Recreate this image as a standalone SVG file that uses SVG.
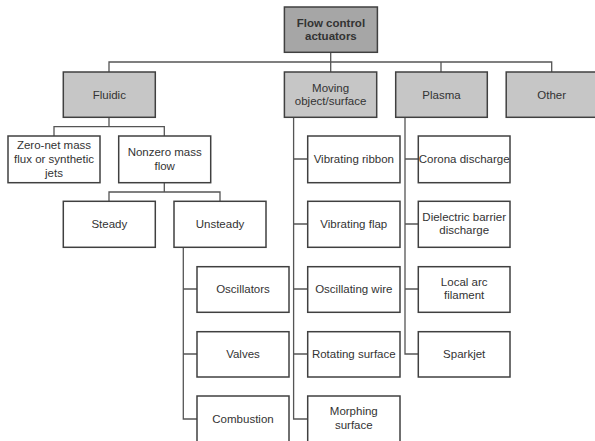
<svg xmlns="http://www.w3.org/2000/svg" width="595" height="441" viewBox="0 0 595 441">
<style>
.box{fill:#ffffff;stroke:#404040;stroke-width:1.5}
.l1{fill:#c6c6c6}
.top{fill:#a6a6a6}
.t{font-family:"Liberation Sans",Arial,sans-serif;font-size:11.5px;fill:#333333;text-anchor:middle}
.b{font-weight:bold}
.c{fill:none;stroke:#555555;stroke-width:1.3}
</style>
<rect width="595" height="441" fill="#ffffff"/>
<g id="connectors">
<path class="c" d="M330.7,52.3V72 M109,72V62H551.7V72 M441,62V72"/>
<path class="c" d="M109,117.3V126.7 M54,136V126.7H164.3V136"/>
<path class="c" d="M164.3,182.7V192 M109,201.3V192H220V201.3"/>
<path class="c" d="M183.3,247.3V419H197 M183.3,289H197 M183.3,354H197"/>
<path class="c" d="M293.6,116.7V419H307.7 M293.6,159H307.7 M293.6,224H307.7 M293.6,289H307.7 M293.6,354H307.7"/>
<path class="c" d="M405,117.3V354H418.3 M405,159H418.3 M405,224H418.3 M405,289H418.3"/>
</g>
<g id="n-root"><rect class="box top" x="284.4" y="7" width="93" height="45.3"/><text class="t b" x="330.9" y="26.7">Flow control</text><text class="t b" x="330.9" y="40">actuators</text></g>
<g id="n-fluidic"><rect class="box l1" x="63.3" y="72" width="92" height="45.3"/><text class="t" x="109.3" y="98.7">Fluidic</text></g>
<g id="n-moving"><rect class="box l1" x="284.4" y="72" width="92.3" height="45.3"/><text class="t" x="330.6" y="91.7">Moving</text><text class="t" x="330.6" y="105.3">object/surface</text></g>
<g id="n-plasma"><rect class="box l1" x="395.7" y="72" width="91.6" height="45.3"/><text class="t" x="441.5" y="98.7">Plasma</text></g>
<g id="n-other"><rect class="box l1" x="506.2" y="72" width="90" height="45.3"/><text class="t" x="551.7" y="98.7">Other</text></g>
<g id="n-zeronet"><rect class="box" x="8" y="136" width="92" height="46.7"/><text class="t" x="54" y="149.3">Zero-net mass</text><text class="t" x="54" y="163.3">flux or synthetic</text><text class="t" x="54" y="177.3">jets</text></g>
<g id="n-nonzero"><rect class="box" x="118.7" y="136" width="92" height="46.7"/><text class="t" x="164.7" y="156.3">Nonzero mass</text><text class="t" x="164.7" y="169.7">flow</text></g>
<g id="n-steady"><rect class="box" x="63.3" y="201.3" width="92" height="46"/><text class="t" x="109.3" y="228.3">Steady</text></g>
<g id="n-unsteady"><rect class="box" x="174" y="201.3" width="92" height="46"/><text class="t" x="220" y="228.3">Unsteady</text></g>
<g id="n-oscillators"><rect class="box" x="197" y="266.7" width="92" height="45.6"/><text class="t" x="243" y="293.3">Oscillators</text></g>
<g id="n-valves"><rect class="box" x="197" y="331.7" width="92" height="45.3"/><text class="t" x="243" y="358.3">Valves</text></g>
<g id="n-combustion"><rect class="box" x="197" y="396" width="92" height="46"/><text class="t" x="243" y="423">Combustion</text></g>
<g id="n-ribbon"><rect class="box" x="307.7" y="136" width="92.3" height="46.7"/><text class="t" x="353.8" y="163.3">Vibrating ribbon</text></g>
<g id="n-flap"><rect class="box" x="307.7" y="201.3" width="92.3" height="46"/><text class="t" x="353.8" y="228.3">Vibrating flap</text></g>
<g id="n-wire"><rect class="box" x="307.7" y="266.7" width="92.3" height="45.6"/><text class="t" x="353.8" y="293.3">Oscillating wire</text></g>
<g id="n-rotating"><rect class="box" x="307.7" y="331.7" width="92.3" height="45.3"/><text class="t" x="353.8" y="358.3">Rotating surface</text></g>
<g id="n-morphing"><rect class="box" x="307.7" y="396" width="92.3" height="46"/><text class="t" x="353.8" y="415.3">Morphing</text><text class="t" x="353.8" y="429">surface</text></g>
<g id="n-corona"><rect class="box" x="418.3" y="136" width="91.7" height="46.7"/><text class="t" x="464.2" y="163.3">Corona discharge</text></g>
<g id="n-dbd"><rect class="box" x="418.3" y="201.3" width="91.7" height="46"/><text class="t" x="464.2" y="220.7">Dielectric barrier</text><text class="t" x="464.2" y="234.3">discharge</text></g>
<g id="n-arc"><rect class="box" x="418.3" y="266.7" width="91.7" height="45.6"/><text class="t" x="464.2" y="285.7">Local arc</text><text class="t" x="464.2" y="299.3">filament</text></g>
<g id="n-sparkjet"><rect class="box" x="418.3" y="331.7" width="91.7" height="45.3"/><text class="t" x="464.2" y="358.3">Sparkjet</text></g>
</svg>
